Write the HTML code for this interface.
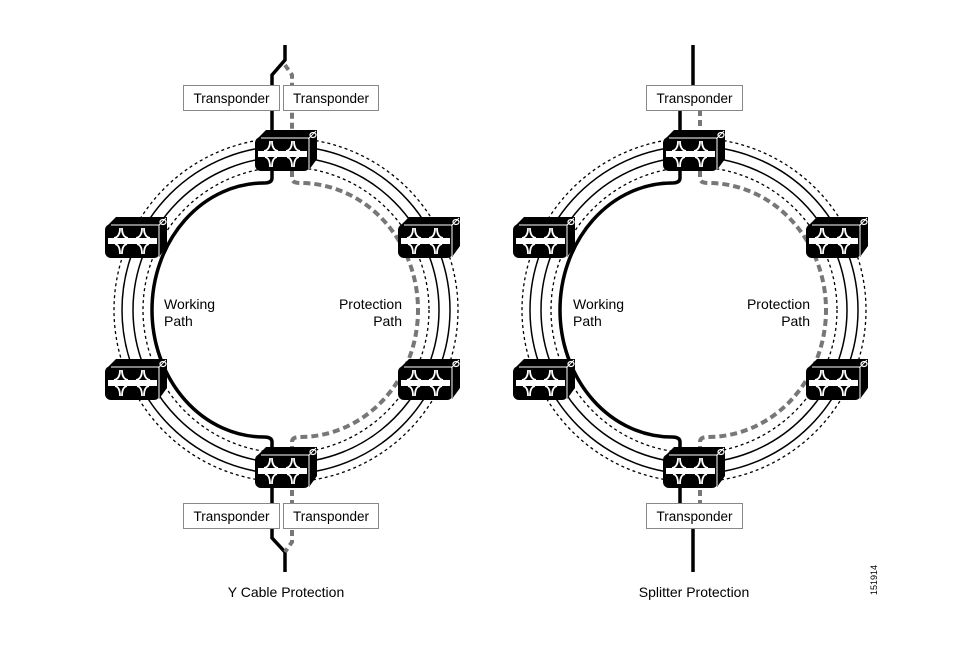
<!DOCTYPE html>
<html><head><meta charset="utf-8"><style>
html,body{margin:0;padding:0;background:#fff;}
svg{display:block;}
text{font-family:"Liberation Sans",sans-serif;fill:#000;}
</style></head><body>
<svg width="980" height="647" viewBox="0 0 980 647" xmlns="http://www.w3.org/2000/svg">
<defs>
<g id="node">
  <polygon points="3,8 11,0 62,0 62,29 54,40 54,8" fill="#000"/>
  <rect x="0" y="7" width="55" height="34" rx="6" fill="#000"/>
  <line x1="6" y1="8" x2="54" y2="8" stroke="#fff" stroke-width="1"/>
  <line x1="54" y1="8" x2="54" y2="39" stroke="#fff" stroke-width="1"/>
  <line x1="54" y1="8" x2="61" y2="1" stroke="#fff" stroke-width="1"/>
  <ellipse cx="58" cy="5" rx="3" ry="2.5" fill="none" stroke="#fff" stroke-width="1.2"/>
  <rect x="3" y="21" width="49" height="6" fill="#fff"/>
  <g fill="none" stroke="#fff" stroke-width="1.8">
    <path d="M9,21 Q15,20 15,11 M23,21 Q17,20 17,11"/>
    <path d="M31,21 Q37,20 37,11 M45,21 Q39,20 39,11"/>
    <path d="M10,27 Q15,28 15,37 M22,27 Q17,28 17,37"/>
    <path d="M32,27 Q37,28 37,37 M44,27 Q39,28 39,37"/>
  </g>
</g>
<g id="rings">
  <ellipse cx="0" cy="0" rx="172" ry="172" fill="none" stroke="#000" stroke-width="1.3" stroke-dasharray="3,3"/>
  <ellipse cx="0" cy="0" rx="164" ry="164" fill="none" stroke="#000" stroke-width="1.5"/>
  <ellipse cx="0" cy="0" rx="153" ry="153" fill="none" stroke="#000" stroke-width="1.5"/>
  <ellipse cx="0" cy="0" rx="143" ry="143" fill="none" stroke="#000" stroke-width="1.3" stroke-dasharray="3,3"/>
</g>
</defs>

<!-- LEFT DIAGRAM -->
<use href="#rings" x="286" y="310"/>
<path d="M272,170 L272,178 Q272,183 264,183 A112,127 0 0 0 264,437 Q272,437 272,442 L272,455" fill="none" stroke="#000" stroke-width="3.5"/>
<path d="M292,170 L292,178 Q292,183 300,183 A118,127 0 0 1 300,437 Q292,437 292,442 L292,455" fill="none" stroke="#777" stroke-width="4" stroke-dasharray="7,4"/>
<path d="M285,45 L285,60 L272,75 L272,140" fill="none" stroke="#000" stroke-width="3.5"/>
<path d="M285,65 L292,75 L292,140" fill="none" stroke="#777" stroke-width="4" stroke-dasharray="6,4"/>
<path d="M272,480 L272,538 L285,552 L285,572" fill="none" stroke="#000" stroke-width="3.5"/>
<path d="M292,480 L292,542 L285,552" fill="none" stroke="#777" stroke-width="4" stroke-dasharray="6,4"/>
<use href="#node" x="255" y="130"/>
<use href="#node" x="105" y="217"/>
<use href="#node" x="398" y="217"/>
<use href="#node" x="105" y="359"/>
<use href="#node" x="398" y="359"/>
<use href="#node" x="255" y="447"/>
<rect x="183.5" y="85.5" width="96" height="25" fill="#fff" stroke="#888"/>
<text x="231.5" y="103" font-size="13.5" text-anchor="middle">Transponder</text>
<rect x="283.5" y="85.5" width="95" height="25" fill="#fff" stroke="#888"/>
<text x="331" y="103" font-size="13.5" text-anchor="middle">Transponder</text>
<rect x="183.5" y="503.5" width="96" height="25" fill="#fff" stroke="#888"/>
<text x="231.5" y="521" font-size="13.5" text-anchor="middle">Transponder</text>
<rect x="283.5" y="503.5" width="95" height="25" fill="#fff" stroke="#888"/>
<text x="331" y="521" font-size="13.5" text-anchor="middle">Transponder</text>
<text x="164" y="309" font-size="14">Working</text>
<text x="164" y="326" font-size="14">Path</text>
<text x="402" y="309" font-size="14" text-anchor="end">Protection</text>
<text x="402" y="326" font-size="14" text-anchor="end">Path</text>
<text x="286" y="597" font-size="14" text-anchor="middle">Y Cable Protection</text>

<!-- RIGHT DIAGRAM -->
<use href="#rings" x="694" y="310"/>
<path d="M680,170 L680,178 Q680,183 672,183 A112,127 0 0 0 672,437 Q680,437 680,442 L680,455" fill="none" stroke="#000" stroke-width="3.5"/>
<path d="M700,170 L700,178 Q700,183 708,183 A118,127 0 0 1 708,437 Q700,437 700,442 L700,455" fill="none" stroke="#777" stroke-width="4" stroke-dasharray="7,4"/>
<line x1="693" y1="45" x2="693" y2="86" stroke="#000" stroke-width="3.5"/>
<line x1="680" y1="110" x2="680" y2="140" stroke="#000" stroke-width="3.5"/>
<line x1="700" y1="110" x2="700" y2="140" stroke="#777" stroke-width="4" stroke-dasharray="6,4"/>
<line x1="680" y1="480" x2="680" y2="504" stroke="#000" stroke-width="3.5"/>
<line x1="700" y1="480" x2="700" y2="504" stroke="#777" stroke-width="4" stroke-dasharray="6,4"/>
<line x1="693" y1="528" x2="693" y2="572" stroke="#000" stroke-width="3.5"/>
<use href="#node" x="663" y="130"/>
<use href="#node" x="513" y="217"/>
<use href="#node" x="806" y="217"/>
<use href="#node" x="513" y="359"/>
<use href="#node" x="806" y="359"/>
<use href="#node" x="663" y="447"/>
<rect x="646.5" y="85.5" width="96" height="25" fill="#fff" stroke="#888"/>
<text x="694.5" y="103" font-size="13.5" text-anchor="middle">Transponder</text>
<rect x="646.5" y="503.5" width="96" height="25" fill="#fff" stroke="#888"/>
<text x="694.5" y="521" font-size="13.5" text-anchor="middle">Transponder</text>
<text x="573" y="309" font-size="14">Working</text>
<text x="573" y="326" font-size="14">Path</text>
<text x="810" y="309" font-size="14" text-anchor="end">Protection</text>
<text x="810" y="326" font-size="14" text-anchor="end">Path</text>
<text x="694" y="597" font-size="14" text-anchor="middle">Splitter Protection</text>

<text x="0" y="0" font-size="9" transform="translate(877,595) rotate(-90)">151914</text>
</svg>
</body></html>
